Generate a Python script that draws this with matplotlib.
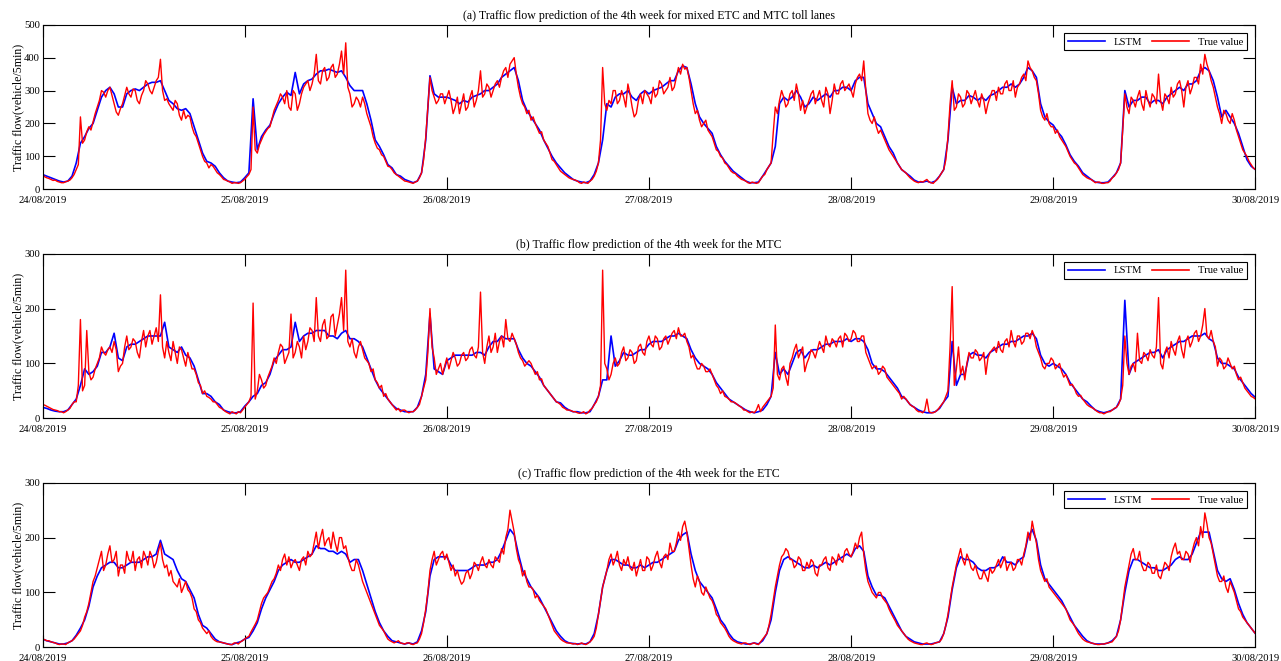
import numpy as np
import matplotlib.pyplot as plt

dates = ["24/08/2019", "25/08/2019", "26/08/2019", "27/08/2019",
         "28/08/2019", "29/08/2019", "30/08/2019"]
titles = ["(a) Traffic flow prediction of the 4th week for mixed ETC and MTC toll lanes",
          "(b) Traffic flow prediction of the 4th week for the MTC",
          "(c) Traffic flow prediction of the 4th week for the ETC"]
ymax = [500, 300, 300]

# true values: 15-min samples, LSTM: 30-min samples (one row per day)
true_a = [45, 38, 35, 33, 30, 27, 28, 24, 22, 20, 20, 23, 25, 28, 35, 45, 60, 75, 220, 140, 150, 175, 190, 180, 205, 230, 250, 270, 300, 295, 280, 300, 310, 285, 260, 235, 225, 245, 260, 285, 310, 290, 280, 305, 300, 270, 260, 285, 300, 330, 320, 300, 290, 310, 330, 340, 395, 300, 270, 275, 260, 250, 240, 270, 260, 225, 210, 240, 215, 225, 220, 190, 170, 160, 140, 120, 100, 85, 80, 65, 75, 70, 60, 50, 45, 38, 30, 28, 25, 22, 18, 20, 20, 18, 20, 25,
          30, 38, 45, 60, 250, 120, 110, 135, 150, 165, 175, 185, 190, 215, 240, 255, 270, 290, 280, 260, 300, 250, 240, 300, 290, 240, 260, 290, 310, 320, 330, 300, 320, 350, 410, 330, 320, 360, 370, 330, 340, 370, 380, 340, 350, 380, 420, 350, 445, 310, 290, 250, 260, 280, 270, 250, 280, 260, 230, 210, 190, 160, 140, 125, 120, 105, 100, 85, 70, 68, 60, 50, 45, 40, 35, 30, 25, 24, 22, 20, 18, 22, 25, 35, 50, 90, 160, 250, 340, 300, 280, 260, 270, 290, 290, 260,
          280, 300, 270, 230, 250, 280, 230, 260, 290, 240, 250, 280, 300, 250, 270, 300, 360, 280, 290, 320, 310, 280, 300, 320, 330, 310, 340, 360, 370, 340, 380, 390, 400, 350, 310, 280, 260, 250, 230, 240, 210, 220, 200, 185, 170, 175, 150, 140, 130, 110, 90, 85, 75, 65, 55, 50, 45, 40, 35, 32, 30, 28, 25, 20, 18, 22, 20, 18, 25, 30, 40, 55, 80, 150, 370, 260, 240, 270, 260, 300, 300, 260, 270, 300, 280, 250, 320, 290, 250, 220, 230, 270, 290, 260, 300, 290,
          280, 260, 310, 280, 290, 330, 320, 290, 300, 310, 340, 300, 310, 340, 370, 350, 380, 365, 370, 340, 300, 260, 230, 240, 210, 190, 200, 210, 180, 170, 160, 140, 120, 115, 100, 95, 80, 75, 65, 55, 50, 48, 40, 35, 30, 28, 25, 20, 18, 22, 20, 18, 20, 30, 40, 45, 60, 70, 80, 170, 250, 230, 270, 300, 280, 250, 260, 290, 300, 270, 320, 290, 240, 270, 230, 250, 270, 290, 300, 260, 280, 300, 270, 250, 310, 290, 230, 270, 320, 290, 290, 320, 330, 300, 310, 320,
          300, 280, 320, 340, 350, 330, 390, 300, 230, 210, 200, 220, 190, 170, 180, 165, 150, 135, 120, 110, 100, 90, 80, 70, 60, 55, 50, 42, 35, 30, 25, 22, 20, 24, 22, 26, 30, 22, 20, 18, 25, 30, 40, 50, 60, 90, 160, 260, 330, 240, 250, 290, 280, 250, 260, 300, 290, 260, 280, 300, 270, 250, 290, 270, 230, 260, 280, 300, 300, 270, 310, 290, 290, 320, 330, 300, 300, 330, 280, 310, 320, 340, 350, 330, 390, 370, 360, 340, 330, 290, 240, 220, 210, 230, 200, 190,
          190, 170, 180, 160, 150, 140, 130, 115, 100, 90, 80, 75, 65, 55, 45, 40, 35, 32, 30, 25, 20, 22, 22, 18, 18, 20, 20, 25, 35, 40, 50, 60, 80, 180, 290, 250, 230, 280, 270, 250, 280, 300, 260, 240, 300, 270, 250, 290, 280, 260, 350, 270, 240, 290, 280, 260, 310, 280, 290, 320, 330, 300, 250, 310, 330, 290, 310, 340, 340, 320, 380, 350, 410, 380, 360, 330, 310, 280, 250, 230, 200, 240, 230, 210, 200, 230, 210, 180, 160, 140, 120, 110, 100, 85, 75, 65,
          60]
lstm_a = [45, 40, 35, 30, 25, 22, 25, 40, 80, 140, 160, 185, 200, 240, 280, 300, 310, 290, 250, 250, 290, 300, 305, 300, 310, 320, 325, 325, 330, 300, 270, 260, 245, 240, 245, 230, 190, 150, 110, 85, 80, 70, 50, 35, 25, 22, 20, 22,
          35, 50, 275, 120, 160, 180, 195, 230, 260, 280, 295, 285, 355, 290, 320, 330, 335, 350, 360, 360, 365, 360, 355, 360, 340, 315, 300, 300, 300, 260, 210, 150, 130, 105, 75, 65, 45, 40, 30, 25, 20, 25, 50, 150, 345, 290, 280, 280,
          280, 275, 270, 260, 270, 265, 280, 285, 290, 300, 300, 310, 320, 340, 350, 360, 370, 330, 270, 240, 220, 200, 180, 150, 125, 100, 80, 65, 50, 40, 30, 25, 22, 20, 25, 45, 80, 150, 260, 250, 280, 290, 290, 300, 280, 270, 290, 300,
          290, 300, 305, 310, 320, 330, 330, 360, 375, 370, 320, 260, 220, 200, 185, 170, 130, 105, 85, 70, 55, 45, 35, 25, 20, 20, 22, 40, 60, 80, 130, 260, 280, 270, 280, 300, 280, 250, 260, 280, 270, 280, 290, 280, 300, 300, 310, 310,
          300, 330, 340, 340, 260, 230, 200, 190, 160, 130, 110, 80, 60, 50, 40, 28, 22, 22, 25, 20, 25, 40, 60, 150, 310, 260, 270, 270, 285, 280, 270, 280, 270, 285, 290, 300, 310, 310, 320, 310, 320, 340, 370, 360, 340, 260, 220, 205,
          195, 175, 160, 135, 105, 85, 70, 50, 40, 30, 22, 20, 20, 22, 35, 50, 80, 300, 250, 270, 270, 280, 280, 260, 270, 270, 260, 280, 290, 300, 310, 300, 320, 320, 330, 360, 370, 360, 330, 280, 220, 240, 220, 200, 170, 130, 90, 70,
          60]

true_b = [25, 24, 22, 20, 18, 16, 15, 14, 12, 12, 10, 12, 15, 18, 25, 30, 30, 60, 180, 50, 60, 160, 85, 70, 75, 90, 100, 110, 130, 120, 115, 125, 130, 120, 140, 125, 85, 95, 100, 130, 150, 125, 130, 145, 140, 120, 110, 140, 160, 130, 150, 160, 135, 150, 165, 140, 225, 130, 110, 140, 120, 105, 140, 120, 100, 130, 125, 110, 95, 120, 105, 90, 90, 80, 65, 60, 45, 50, 40, 38, 35, 30, 30, 25, 20, 18, 15, 12, 10, 8, 12, 10, 8, 12, 10, 15,
          20, 25, 30, 40, 210, 35, 50, 80, 70, 55, 60, 75, 85, 95, 110, 100, 120, 135, 130, 100, 110, 120, 190, 110, 120, 140, 130, 110, 150, 125, 140, 165, 160, 140, 220, 150, 140, 170, 180, 145, 150, 185, 190, 150, 170, 190, 220, 160, 270, 140, 130, 145, 120, 110, 130, 140, 125, 110, 105, 100, 85, 90, 70, 65, 55, 60, 40, 45, 35, 30, 25, 20, 15, 18, 12, 15, 15, 12, 10, 12, 12, 15, 20, 25, 40, 55, 70, 120, 200, 130, 110, 80, 90, 100, 80, 95,
          110, 90, 105, 120, 110, 95, 100, 115, 120, 105, 110, 125, 130, 115, 110, 130, 230, 120, 100, 130, 150, 120, 130, 155, 120, 140, 150, 130, 180, 145, 140, 155, 145, 135, 120, 110, 105, 95, 100, 105, 100, 90, 80, 85, 70, 72, 60, 55, 50, 45, 40, 35, 30, 28, 25, 20, 18, 15, 15, 14, 12, 12, 10, 9, 10, 12, 8, 10, 15, 18, 25, 30, 40, 60, 270, 100, 90, 70, 80, 100, 110, 95, 100, 120, 130, 105, 110, 125, 120, 100, 105, 130, 135, 120, 115, 140,
          150, 135, 130, 150, 145, 125, 130, 145, 150, 135, 145, 155, 160, 145, 165, 150, 150, 155, 140, 130, 110, 115, 100, 90, 90, 100, 95, 85, 85, 90, 80, 70, 60, 55, 45, 50, 40, 38, 35, 30, 30, 28, 25, 22, 20, 15, 15, 12, 10, 12, 10, 15, 25, 12, 20, 25, 30, 35, 40, 55, 170, 80, 70, 90, 95, 75, 60, 100, 110, 125, 135, 110, 120, 130, 85, 100, 110, 125, 120, 110, 125, 140, 130, 120, 150, 135, 130, 145, 140, 130, 145, 150, 130, 155, 150, 140,
          145, 160, 155, 140, 140, 150, 150, 120, 110, 100, 90, 95, 95, 80, 85, 95, 90, 75, 70, 65, 60, 55, 50, 45, 35, 40, 35, 30, 25, 22, 20, 15, 12, 12, 10, 15, 35, 12, 10, 10, 12, 15, 20, 25, 30, 40, 50, 130, 240, 60, 90, 130, 80, 95, 70, 100, 120, 110, 110, 125, 120, 105, 110, 120, 80, 110, 120, 125, 130, 120, 140, 125, 120, 140, 145, 130, 160, 140, 130, 150, 150, 135, 140, 155, 155, 145, 160, 150, 130, 120, 110, 95, 90, 100, 100, 110,
          105, 90, 95, 100, 85, 75, 80, 70, 60, 62, 55, 45, 40, 42, 35, 30, 25, 22, 20, 18, 15, 12, 10, 10, 8, 10, 12, 12, 15, 18, 20, 25, 35, 60, 150, 100, 80, 95, 100, 85, 155, 105, 100, 120, 115, 105, 125, 115, 110, 130, 220, 100, 90, 120, 130, 110, 140, 125, 115, 140, 150, 125, 110, 140, 150, 130, 140, 155, 160, 140, 150, 170, 200, 150, 145, 160, 140, 130, 95, 110, 105, 90, 95, 110, 100, 90, 95, 80, 70, 75, 65, 55, 50, 45, 40, 38,
          35]
lstm_b = [20, 18, 15, 13, 12, 12, 15, 25, 35, 60, 90, 80, 85, 95, 120, 120, 130, 155, 110, 105, 130, 135, 135, 140, 145, 150, 150, 150, 150, 175, 130, 125, 120, 130, 115, 110, 95, 70, 45, 45, 40, 30, 25, 15, 12, 10, 10, 12,
          22, 30, 40, 45, 60, 65, 80, 105, 115, 125, 125, 130, 175, 140, 150, 155, 155, 160, 160, 160, 150, 150, 145, 155, 160, 145, 145, 140, 130, 110, 90, 70, 55, 45, 35, 25, 18, 15, 12, 12, 12, 20, 40, 80, 190, 90, 85, 80,
          105, 110, 115, 115, 115, 115, 115, 120, 120, 115, 130, 140, 140, 150, 145, 145, 145, 125, 110, 100, 95, 85, 75, 60, 50, 40, 30, 28, 20, 15, 12, 12, 10, 10, 12, 25, 40, 70, 70, 150, 95, 105, 120, 115, 115, 120, 125, 125,
          135, 140, 140, 140, 145, 150, 150, 155, 150, 145, 125, 110, 100, 95, 90, 80, 65, 55, 45, 35, 30, 25, 20, 15, 12, 10, 12, 15, 25, 40, 120, 80, 90, 80, 100, 120, 125, 110, 120, 125, 125, 130, 135, 135, 140, 140, 140, 145,
          140, 145, 145, 140, 125, 100, 90, 90, 85, 75, 65, 55, 40, 35, 25, 20, 15, 12, 10, 10, 12, 18, 30, 40, 140, 60, 80, 80, 115, 120, 115, 115, 110, 120, 125, 130, 135, 135, 140, 140, 145, 150, 150, 155, 145, 115, 100, 95,
          100, 95, 90, 80, 65, 55, 45, 35, 30, 22, 15, 12, 10, 12, 15, 20, 35, 215, 80, 100, 105, 110, 115, 120, 120, 125, 110, 125, 130, 135, 140, 140, 145, 150, 150, 150, 155, 145, 140, 110, 100, 100, 95, 90, 75, 65, 55, 45,
          38]

true_c = [15, 14, 12, 12, 10, 9, 8, 6, 5, 6, 6, 5, 8, 10, 12, 15, 20, 25, 30, 40, 55, 65, 80, 100, 120, 130, 145, 160, 175, 140, 150, 170, 185, 155, 160, 175, 130, 150, 150, 135, 175, 160, 155, 175, 140, 160, 165, 145, 175, 165, 150, 175, 165, 145, 155, 175, 190, 160, 145, 150, 130, 140, 120, 115, 110, 125, 100, 110, 120, 105, 100, 90, 70, 65, 50, 45, 35, 30, 25, 30, 20, 15, 12, 10, 10, 9, 8, 7, 6, 5, 5, 8, 8, 6, 10, 12,
          15, 18, 20, 28, 35, 42, 50, 65, 80, 90, 95, 100, 110, 120, 125, 135, 150, 140, 160, 170, 150, 165, 145, 155, 160, 150, 140, 160, 165, 150, 175, 165, 170, 190, 210, 180, 200, 215, 185, 195, 200, 180, 210, 190, 175, 200, 200, 180, 185, 165, 150, 140, 140, 160, 150, 135, 120, 110, 100, 90, 80, 70, 60, 50, 40, 35, 30, 22, 15, 12, 10, 8, 10, 12, 8, 7, 6, 8, 8, 6, 5, 7, 8, 15, 25, 45, 70, 100, 140, 160, 175, 150, 160, 170, 175, 160,
          170, 155, 140, 150, 130, 140, 125, 115, 120, 135, 140, 125, 135, 155, 150, 140, 155, 165, 150, 145, 160, 150, 145, 165, 160, 155, 180, 170, 200, 215, 250, 230, 210, 180, 160, 150, 130, 140, 120, 110, 110, 105, 90, 95, 85, 80, 75, 70, 60, 50, 40, 30, 25, 20, 15, 12, 10, 8, 8, 7, 6, 7, 5, 6, 8, 6, 5, 7, 10, 14, 20, 35, 60, 85, 110, 125, 140, 160, 170, 150, 160, 175, 150, 140, 160, 150, 165, 145, 140, 155, 130, 145, 160, 140, 140, 165,
          160, 140, 150, 165, 175, 155, 145, 165, 170, 160, 190, 175, 175, 190, 210, 195, 220, 230, 210, 180, 150, 125, 110, 130, 120, 100, 95, 110, 100, 90, 85, 75, 60, 55, 45, 40, 35, 28, 20, 15, 12, 10, 8, 7, 6, 8, 8, 6, 5, 7, 8, 6, 5, 10, 15, 20, 25, 40, 60, 85, 110, 130, 150, 165, 170, 180, 175, 160, 160, 145, 150, 165, 160, 140, 140, 155, 145, 160, 155, 135, 130, 150, 150, 160, 165, 145, 140, 165, 160, 150, 170, 160, 155, 175, 180, 170,
          165, 175, 190, 180, 200, 210, 170, 140, 120, 110, 100, 95, 90, 100, 100, 90, 85, 80, 70, 62, 55, 48, 40, 35, 30, 25, 20, 15, 12, 10, 8, 7, 6, 5, 5, 7, 8, 6, 5, 6, 8, 9, 10, 15, 25, 40, 60, 85, 110, 130, 150, 165, 180, 160, 150, 170, 160, 145, 140, 150, 135, 125, 125, 140, 130, 120, 145, 135, 140, 150, 160, 145, 155, 165, 140, 150, 155, 140, 145, 160, 160, 150, 170, 185, 210, 195, 230, 210, 190, 160, 140, 130, 120, 125, 110, 105,
          100, 95, 90, 85, 80, 75, 70, 60, 50, 45, 40, 32, 25, 20, 15, 12, 10, 9, 8, 7, 6, 5, 5, 6, 6, 7, 8, 9, 10, 15, 20, 30, 50, 80, 110, 130, 150, 170, 180, 160, 160, 175, 150, 140, 140, 155, 150, 135, 135, 150, 130, 125, 140, 155, 150, 140, 165, 180, 190, 170, 175, 160, 160, 175, 170, 155, 175, 190, 200, 185, 220, 200, 245, 225, 200, 190, 170, 150, 130, 120, 120, 130, 110, 100, 120, 110, 100, 85, 70, 65, 55, 50, 45, 40, 35, 30,
          25]
lstm_c = [15, 12, 10, 8, 6, 6, 8, 12, 22, 35, 50, 75, 110, 130, 145, 150, 155, 155, 145, 145, 150, 155, 155, 155, 160, 165, 165, 170, 195, 170, 165, 160, 140, 125, 120, 105, 90, 60, 40, 35, 25, 15, 10, 8, 6, 5, 8, 10,
          15, 18, 30, 45, 70, 90, 105, 120, 140, 150, 155, 160, 155, 155, 160, 165, 170, 185, 180, 180, 175, 175, 170, 175, 170, 155, 160, 160, 140, 115, 90, 65, 45, 30, 20, 12, 10, 8, 6, 8, 6, 10, 30, 65, 130, 160, 165, 165,
          165, 150, 140, 140, 140, 140, 145, 150, 150, 150, 155, 155, 160, 175, 195, 215, 205, 170, 140, 125, 110, 100, 90, 75, 60, 45, 30, 20, 12, 8, 7, 6, 7, 6, 10, 25, 60, 110, 140, 160, 160, 155, 150, 150, 145, 145, 150, 145,
          150, 155, 155, 160, 165, 170, 175, 195, 205, 210, 170, 140, 120, 110, 100, 90, 70, 50, 40, 25, 15, 10, 8, 6, 6, 8, 6, 12, 25, 50, 100, 140, 160, 165, 160, 155, 150, 145, 145, 150, 145, 150, 155, 150, 155, 160, 165, 170,
          165, 180, 185, 175, 130, 110, 95, 95, 90, 75, 60, 45, 30, 20, 15, 10, 8, 6, 6, 6, 8, 10, 25, 55, 105, 145, 165, 160, 160, 155, 145, 140, 140, 145, 145, 150, 165, 155, 155, 150, 160, 165, 200, 215, 195, 150, 125, 115,
          105, 95, 85, 70, 55, 40, 30, 20, 12, 8, 6, 6, 6, 8, 12, 20, 50, 100, 140, 160, 160, 155, 150, 145, 145, 140, 140, 145, 150, 160, 165, 160, 160, 170, 190, 210, 210, 210, 175, 140, 125, 120, 125, 105, 80, 60, 45, 35,
          25]

series = [(lstm_a, true_a), (lstm_b, true_b), (lstm_c, true_c)]

plt.rcParams['font.family'] = ['Liberation Serif', 'DejaVu Serif']
plt.rcParams['font.size'] = 7.7

fig = plt.figure(figsize=(12.81, 6.61), dpi=100)
bottoms = [0.7136, 0.3672, 0.0207]

for k in range(3):
    ax = fig.add_axes([0.0332, bottoms[k], 0.9468, 0.2490])
    lstm, true = series[k]
    t_l = np.linspace(0, 6, len(lstm))
    t_t = np.linspace(0, 6, len(true))
    ax.plot(t_l, lstm, color='#0000ff', lw=1.2, label='LSTM')
    ax.plot(t_t, true, color='#ff0000', lw=1.0, label='True value')
    ax.set_xlim(0, 6)
    ax.set_ylim(0, ymax[k])
    ax.set_xticks(range(7))
    ax.set_xticklabels(dates)
    ax.set_yticks(np.arange(0, ymax[k] + 1, 100))
    ax.tick_params(direction='in', length=8.5, width=0.8, top=True, right=True)
    ax.tick_params(axis='x', pad=4.5)
    ax.tick_params(axis='y', pad=2)
    ax.set_ylabel('Traffic flow(vehicle/5min)', fontsize=8.6, labelpad=0)
    ax.set_title(titles[k], fontsize=8.6, pad=4)
    for s in ax.spines.values():
        s.set_linewidth(0.8)
    leg = ax.legend(loc='upper right', ncol=2, fancybox=False, framealpha=1,
                    edgecolor='black', handlelength=3.5, columnspacing=0.9,
                    borderaxespad=0.8, handletextpad=0.8, borderpad=0.35,
                    fontsize=7.7)
    leg.get_frame().set_linewidth(0.8)
    for h in leg.get_lines():
        h.set_linewidth(1.2)

fig.savefig('out.png', dpi=100)
